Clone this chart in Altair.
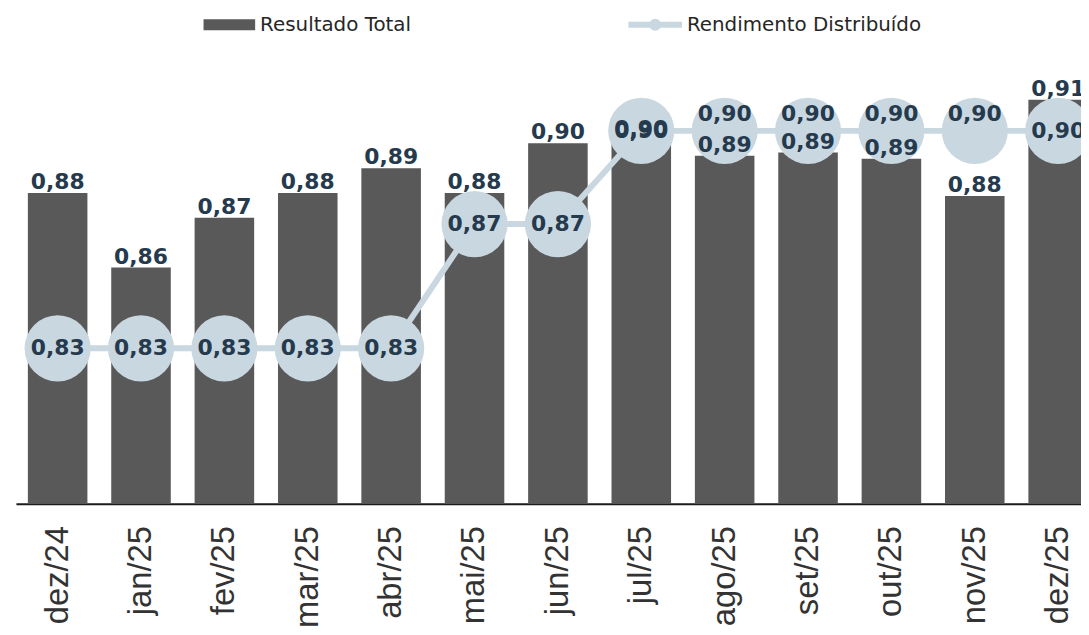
import altair as alt
import pandas as pd

months = ["dez/24", "jan/25", "fev/25", "mar/25", "abr/25", "mai/25", "jun/25",
          "jul/25", "ago/25", "set/25", "out/25", "nov/25", "dez/25"]
resultado_total = [0.880, 0.856, 0.872, 0.880, 0.888, 0.880, 0.896,
                   0.897, 0.892, 0.893, 0.891, 0.879, 0.910]
rendimento = [0.83, 0.83, 0.83, 0.83, 0.83, 0.87, 0.87,
              0.90, 0.90, 0.90, 0.90, 0.90, 0.90]
legend_labels = ["Resultado Total", "Rendimento Distribuído"]

df = pd.DataFrame({"mes": months, "total": resultado_total, "rend": rendimento})

BAR = "#595959"
LINE = "#c9d7e0"
LABEL = "#253a4d"
YMIN, YMAX = 0.78, 0.9388
PX_PER_UNIT = 497 / (YMAX - YMIN)

x = alt.X("mes:N", sort=months, title=None,
          scale=alt.Scale(range=[8, 1100], paddingInner=0.2857, paddingOuter=0.1429),
          axis=alt.Axis(labelAngle=-90, labelFont="Liberation Sans", labelFontSize=33,
                        labelColor="#333333", ticks=False, tickSize=0, labelPadding=22,
                        domainColor="#1a1a1a", domainWidth=2, labelOverlap=False,
                        labelLimit=300, grid=False))
yscale = alt.Scale(domain=[YMIN, YMAX], zero=False, nice=False)

base = alt.Chart(df).encode(x=x)

bars = base.mark_bar(color=BAR, clip=True).encode(
    y=alt.Y("total:Q", scale=yscale, axis=None),
    y2=alt.Y2Datum(YMIN),
)
line = base.mark_line(color=LINE, strokeWidth=6, clip=True).encode(
    y=alt.Y("rend:Q", scale=yscale, axis=None),
)
circles = base.mark_circle(color=LINE, size=4450, opacity=1, clip=True).encode(
    y=alt.Y("rend:Q", scale=yscale, axis=None),
)
bar_labels = base.transform_calculate(
    lab="replace(format(datum.total, '.2f'), '.', ',')"
).mark_text(font="DejaVu Sans", fontWeight="bold", fontSize=22, color=LABEL,
            baseline="alphabetic", dy=-4, clip=True).encode(
    y=alt.Y("total:Q", scale=yscale, axis=None),
    text="lab:N",
)
# line label moves up inside its circle when the bar label would sit on it
line_labels = base.transform_calculate(
    lab="replace(format(datum.rend, '.2f'), '.', ',')",
    laby=f"datum.rend - datum.total >= 0.005 ? datum.rend + 17 / {PX_PER_UNIT} : datum.rend",
).mark_text(font="DejaVu Sans", fontWeight="bold", fontSize=22, color=LABEL,
            baseline="middle", clip=True).encode(
    y=alt.Y("laby:Q", scale=yscale, axis=None),
    text="lab:N",
)

leg_df = pd.DataFrame({"name": legend_labels})
leg1 = alt.Chart(leg_df).transform_filter(alt.datum.name == legend_labels[0])
leg2 = alt.Chart(leg_df).transform_filter(alt.datum.name == legend_labels[1])
leg1_sw = leg1.mark_rect(color=BAR).encode(
    x=alt.value(197), x2=alt.value(249), y=alt.value(9), y2=alt.value(20))
leg1_tx = leg1.mark_text(
    font="DejaVu Sans", fontSize=20, color="#262626", align="left", baseline="alphabetic").encode(
    x=alt.value(254), y=alt.value(20.5), text="name:N")
leg2_ln = leg2.mark_rule(color=LINE, strokeWidth=6).encode(
    x=alt.value(625), x2=alt.value(679), y=alt.value(14.5))
leg2_pt = leg2.mark_circle(color=LINE, size=144, opacity=1).encode(
    x=alt.value(652), y=alt.value(14.5))
leg2_tx = leg2.mark_text(
    font="DejaVu Sans", fontSize=20, color="#262626", align="left", baseline="alphabetic").encode(
    x=alt.value(684), y=alt.value(20.5), text="name:N")

chart = alt.layer(bars, line, circles, bar_labels, line_labels,
                  leg1_sw, leg1_tx, leg2_ln, leg2_pt, leg2_tx).properties(
    width=1081, height=497,
    background="white",
    autosize=alt.AutoSizeParams(type="none"),
    padding={"left": 0, "top": 0, "right": 0, "bottom": 130},
).configure_view(stroke=None, strokeWidth=0)

chart.save("out.html", embed_options={"renderer": "svg", "actions": False})
